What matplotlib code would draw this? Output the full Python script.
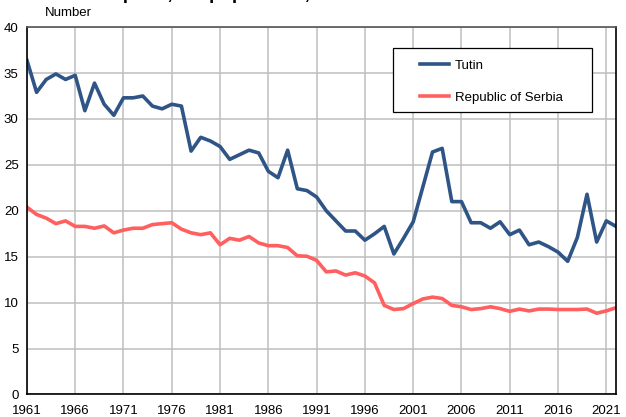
import numpy as np
import matplotlib.pyplot as plt
from matplotlib.patches import Rectangle

plt.rcParams['font.family'] = ['Liberation Sans', 'DejaVu Sans']

# years 1961 - 2022
years = np.arange(1961, 2023)

tutin = [36.4, 32.9, 34.3, 34.9, 34.3, 34.75, 30.9, 33.9, 31.6, 30.4,
         32.3, 32.3, 32.5, 31.4, 31.1, 31.6, 31.4, 26.5, 28.0, 27.6,
         27.0, 25.6, 26.1, 26.6, 26.3, 24.3, 23.6, 26.6, 22.4, 22.2,
         21.5, 20.0, 18.9, 17.8, 17.8, 16.8, 17.5, 18.3, 15.3, 17.0,
         18.8, 22.6, 26.4, 26.8, 21.0, 21.0, 18.7, 18.7, 18.1, 18.8,
         17.4, 17.9, 16.3, 16.6, 16.1, 15.5, 14.5, 17.1, 21.8, 16.6,
         18.9, 18.3]

serbia = [20.4, 19.6, 19.2, 18.6, 18.9, 18.3, 18.3, 18.1, 18.35, 17.6,
          17.9, 18.1, 18.1, 18.5, 18.6, 18.7, 18.0, 17.6, 17.4, 17.6,
          16.3, 17.0, 16.8, 17.2, 16.5, 16.2, 16.2, 16.0, 15.1, 15.05,
          14.6, 13.35, 13.45, 13.0, 13.25, 12.9, 12.15, 9.7, 9.25, 9.35,
          9.9, 10.4, 10.6, 10.45, 9.7, 9.55, 9.25, 9.35, 9.55, 9.35,
          9.05, 9.3, 9.1, 9.3, 9.3, 9.25, 9.25, 9.25, 9.3, 8.85,
          9.1, 9.45]

xticks = np.arange(1961, 2022, 5)
yticks = np.arange(0, 41, 5)

fs = 9.5

fig = plt.figure(figsize=(6.26, 4.17), dpi=100)
ax = fig.add_axes([0.043, 0.054, 0.941, 0.881])

ax.plot(years, tutin, color='#2f5486', lw=2.6, label='Tutin')
ax.plot(years, serbia, color='#ff5f5f', lw=2.6, label='Republic of Serbia')

ax.set_xlim(1961, 2022)
ax.set_ylim(0, 40)
ax.set_xticks(xticks)
ax.set_yticks(yticks)
ax.tick_params(length=0, labelsize=fs)
ax.tick_params(axis='x', pad=7.5)
ax.tick_params(axis='y', pad=6)
ax.grid(True, color='#bfbfbf', lw=1.1)
ax.set_axisbelow(True)

for s in ['left', 'bottom', 'right']:
    ax.spines[s].set_color('black')
    ax.spines[s].set_linewidth(1.2)
ax.spines['top'].set_color('#555555')
ax.spines['top'].set_linewidth(1.2)

# legend box drawn by hand, entries placed inside it
box = Rectangle((0.6214, 0.7687), 0.3379, 0.1742, transform=ax.transAxes,
                facecolor='white', edgecolor='black', lw=0.9, zorder=4)
ax.add_patch(box)
leg = ax.legend(loc='upper left', bbox_to_anchor=(0.667, 0.912), fontsize=fs,
                frameon=False, handlelength=2.2, labelspacing=1.5,
                handletextpad=0.45, borderpad=0, borderaxespad=0)
leg.set_zorder(5)

fig.text(68 / 626, 1 - 13 / 417, 'Number', fontsize=fs, ha='center', va='center')
fig.text(23 / 626, 1 + 1 / 417, 'Live births per 1,000 population, Tutin',
         fontsize=13.5, fontweight='bold', ha='left', va='baseline')

fig.savefig('out.png', dpi=100)
